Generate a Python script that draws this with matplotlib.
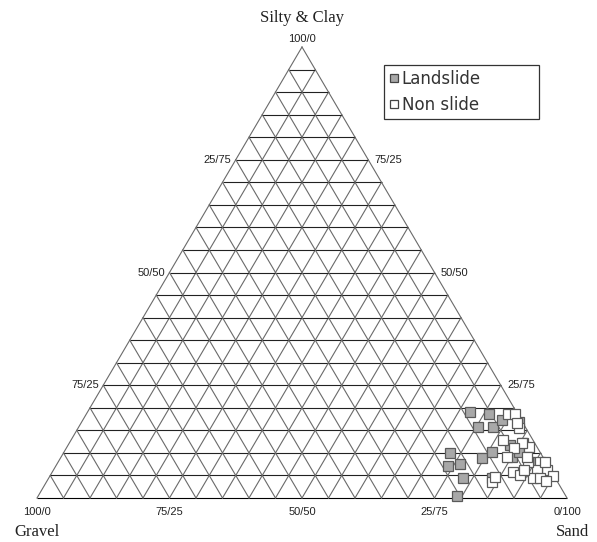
import matplotlib
matplotlib.use("Agg")
import matplotlib.pyplot as plt
import numpy as np

# soil texture samples, percent (gravel + sand + silt&clay = 100)
landslide_gravel = [8.7, 5.4, 9.0, 6.2, 3.6, 0.7, 17.1, 16.5, 11.5, 9.1,
                    5.8, 20.6, 17.4, 18.9, 12.0, 2.2, 4.9, 3.0, 4.0]
landslide_sand = [72.2, 76.0, 75.3, 78.1, 79.1, 82.4, 72.9, 76.0, 79.6, 80.7,
                  85.1, 79.0, 78.2, 74.0, 83.6, 85.6, 83.3, 89.0, 85.8]
landslide_silt = [19.1, 18.6, 15.7, 15.7, 17.3, 16.9, 10.0, 7.5, 8.9, 10.2,
                  9.1, 0.4, 4.4, 7.1, 4.4, 12.2, 11.8, 8.0, 10.2]

nonslide_gravel = [1.8, 0.5, 1.3, 1.1, 1.5, 2.4, 4.4, 1.1, 0.7, 0.3, 2.6, 3.4,
                   3.0, 7.3, 4.2, 2.9, 12.4, 6.3, 5.6, 6.8, 11.2, 0.2, 2.1, 5.0]
nonslide_sand = [79.6, 80.9, 83.2, 82.3, 87.2, 85.4, 84.5, 90.9, 93.1, 94.9,
                 91.2, 88.6, 87.9, 86.9, 91.4, 92.7, 84.1, 88.6, 81.5, 84.1,
                 84.1, 91.8, 94.1, 88.8]
nonslide_silt = [18.6, 18.6, 15.5, 16.6, 11.3, 12.2, 11.1, 8.0, 6.2, 4.8,
                 6.2, 8.0, 9.1, 5.8, 4.4, 4.4, 3.5, 5.1, 12.9, 9.1,
                 4.7, 8.0, 3.8, 6.2]

bottom_labels = ["100/0", "75/25", "50/50", "25/75", "0/100"]
left_labels = ["75/25", "50/50", "25/75"]
right_labels = ["25/75", "50/50", "75/25"]
levels = [0.25, 0.5, 0.75]


def to_xy(sand, silt):
    # gravel corner at (0,0), sand at (1,0), silt&clay at the apex
    s = np.asarray(sand) / 100.0
    c = np.asarray(silt) / 100.0
    return s + c / 2.0, c


fig = plt.figure(figsize=(5.97, 5.42), dpi=100)
ax = fig.add_axes([0, 0, 1, 1])
ax.set_xlim(-37 / 530, 560 / 530)
ax.set_ylim(-44 / 451, 498 / 451)
ax.axis("off")

# triangular grid, 5 % steps
n = 20
grid_gray = "#6a6a6a"
for k in range(n + 1):
    t = k / n
    # horizontal lines (constant silt & clay)
    ax.plot([t / 2, 1 - t / 2], [t, t], color="black" if k == 0 else "#222222",
            lw=0.8, solid_capstyle="butt", zorder=1)
    # lines parallel to the left side (constant sand)
    ax.plot([t, t + (1 - t) / 2], [0, 1 - t], color=grid_gray, lw=0.8, zorder=1)
    # lines parallel to the right side (constant gravel)
    ax.plot([t, t / 2], [0, t], color=grid_gray, lw=0.8, zorder=1)

lx, ly = to_xy(landslide_sand, landslide_silt)
nx, ny = to_xy(nonslide_sand, nonslide_silt)
ax.plot(lx, ly, "s", ms=7.2, mfc="#a8a8a8", mec="#5a5a5a", mew=0.9,
        ls="none", label="Landslide", zorder=3)
ax.plot(nx, ny, "s", ms=7.2, mfc="white", mec="#5a5a5a", mew=0.9,
        ls="none", label="Non slide", zorder=4)

tick_font = dict(family="Liberation Sans", fontsize=8, color="#222222")
for i, lab in enumerate(bottom_labels):
    ax.text(i * 0.25, -0.032, lab, ha="center", va="center", **tick_font)
ax.text(0.5, 1.018, "100/0", ha="center", va="center", **tick_font)
for v, lab in zip(levels, left_labels):
    ax.text(v / 2 - 0.008, v, lab, ha="right", va="center", **tick_font)
for v, lab in zip(levels, right_labels):
    ax.text(1 - v / 2 + 0.012, v, lab, ha="left", va="center", **tick_font)

name_font = dict(family="Liberation Serif", fontsize=12, color="#222222")
ax.text(0.5, 1.064, "Silty & Clay", ha="center", va="center", **name_font)
ax.text(0.0, -0.075, "Gravel", ha="center", va="center", **name_font)
ax.text(1.01, -0.075, "Sand", ha="center", va="center", **name_font)

leg = ax.legend(loc="upper left", bbox_to_anchor=(384 / 597, 1 - 65 / 542, 155 / 597, 0),
                bbox_transform=fig.transFigure, mode="expand", alignment="center",
                borderaxespad=0, borderpad=0.3, fancybox=False, edgecolor="black",
                handlelength=0.6, handletextpad=0.15, labelspacing=0.45,
                prop={"family": "DejaVu Sans", "size": 12})
leg.get_frame().set_linewidth(0.9)
for h in leg.legend_handles:
    h.set_markersize(6)
    h.set_markeredgecolor("#444444")
for txt in leg.get_texts():
    txt.set_color("#333333")

fig.savefig("out.png", dpi=100)
